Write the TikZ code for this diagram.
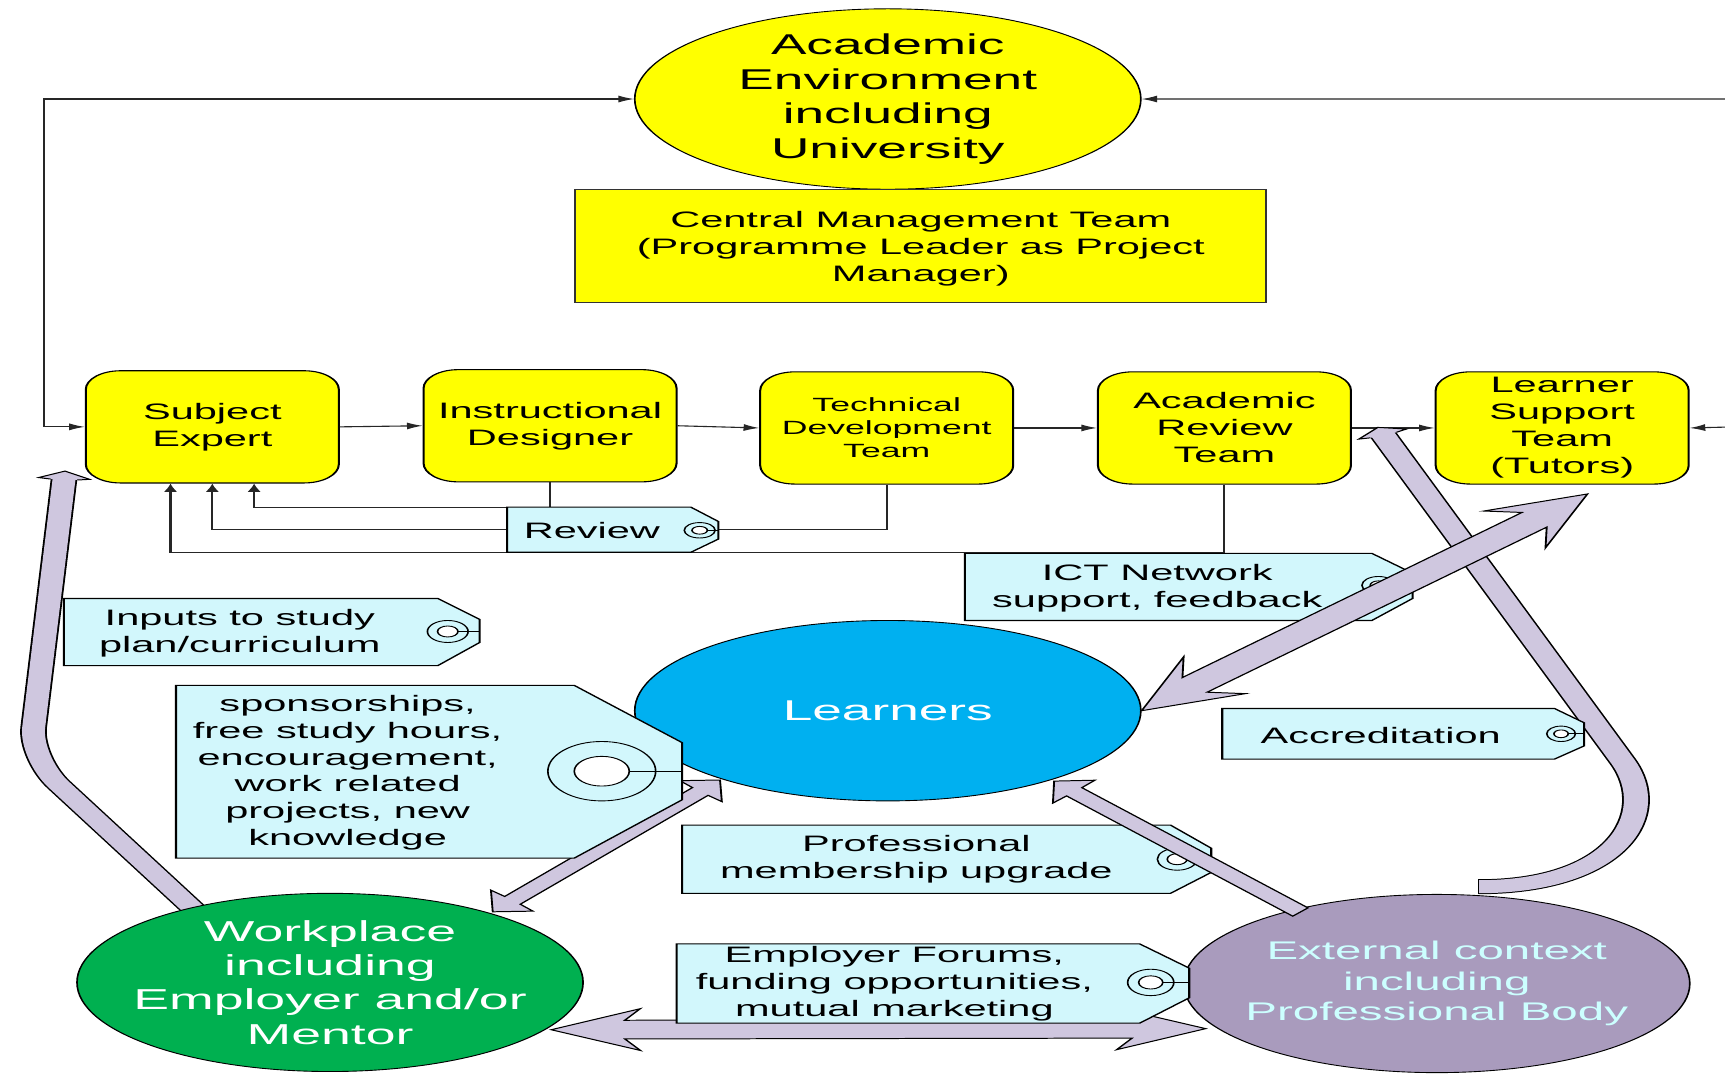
\documentclass[tikz,border=0pt]{standalone}
\usepackage{fontspec}
\setmainfont{Liberation Sans}
\usetikzlibrary{calc,arrows.meta,shapes.geometric}
\definecolor{ayellow}{RGB}{255,255,0}
\definecolor{tagcyan}{RGB}{210,247,252}
\definecolor{lblue}{RGB}{0,176,240}
\definecolor{wgreen}{RGB}{0,176,80}
\definecolor{epurple}{RGB}{169,155,189}
\definecolor{etext}{RGB}{204,255,255}
\definecolor{lav}{RGB}{207,199,223}
\newcommand\fsz[2]{\fontsize{#1}{#2}\selectfont}
% double-headed block arrow: A, B, neck, barb, shaft half, barb half
\newcommand\dblarrow[6]{%
 \filldraw[bigarrow] (#1) -- ($(#1)!#4!(#2)!#6!90:(#2)$) -- ($(#1)!#3!(#2)!#5!90:(#2)$) -- ($(#2)!#3!(#1)!#5!-90:(#1)$) -- ($(#2)!#4!(#1)!#6!-90:(#1)$) -- (#2) -- ($(#2)!#4!(#1)!#6!90:(#1)$) -- ($(#2)!#3!(#1)!#5!90:(#1)$) -- ($(#1)!#3!(#2)!#5!-90:(#2)$) -- ($(#1)!#4!(#2)!#6!-90:(#2)$) -- cycle;}
% single-headed block arrow: tip, tail, neck, barb, shaft half, barb half
\newcommand\sglarrow[6]{%
 \filldraw[bigarrow] (#1) -- ($(#1)!#4!(#2)!#6!90:(#2)$) -- ($(#1)!#3!(#2)!#5!90:(#2)$) -- ($(#2)!#5!-90:(#1)$) -- ($(#2)!#5!90:(#1)$) -- ($(#1)!#3!(#2)!#5!-90:(#2)$) -- ($(#1)!#4!(#2)!#6!-90:(#2)$) -- cycle;}
% arrow head only: tip, toward, neck, barb, shaft half, barb half
\newcommand\arrhead[6]{%
 \fill[bigfill] ($(#1)!#3!(#2)!#5!90:(#2)$) -- ($(#1)!#4!(#2)!#6!90:(#2)$) -- (#1) -- ($(#1)!#4!(#2)!#6!-90:(#2)$) -- ($(#1)!#3!(#2)!#5!-90:(#2)$) -- cycle;
 \draw[bigline] ($(#1)!#3!(#2)!#5!90:(#2)$) -- ($(#1)!#4!(#2)!#6!90:(#2)$) -- (#1) -- ($(#1)!#4!(#2)!#6!-90:(#2)$) -- ($(#1)!#3!(#2)!#5!-90:(#2)$);}
\begin{document}
\begin{tikzpicture}[x=0.5pt,y=-0.5pt]
\fill[white] (0,0) rectangle (1568,975.4);
\useasboundingbox (0,0) rectangle (1568,975.4);
\begin{scope}[transform canvas={xscale=1.86}, x=0.268817pt, y=-0.5pt,
  box/.style={draw=black, line width=0.5pt, fill=ayellow, rounded corners=8.5pt, minimum width=61.83pt, minimum height=51pt, inner sep=1pt, align=center, font=\fsz{10.15}{12.25}},
  ell/.style={ellipse, draw=black, line width=0.4pt, minimum width=123.66pt, minimum height=82pt, inner xsep=-6pt, inner ysep=-3pt, align=center},
  conn/.style={draw=black!85, line width=0.5pt},
  arrowend/.style={-{Latex[length=3.8pt,width=3.2pt]}},
  bothends/.style={{Latex[length=3.8pt,width=3.2pt]}-{Latex[length=3.8pt,width=3.2pt]}},
  tagst/.style={draw=black, line width=0.5pt, fill=tagcyan},
  tagtxt/.style={align=center, font=\fsz{10.15}{12.25}, inner sep=0pt, yshift=-1.2pt},
  holest/.style={draw=black, line width=0.4pt},
  bigfill/.style={fill=lav},
  bigline/.style={draw=black, line width=0.45pt},
  bigarrow/.style={fill=lav, draw=black, line width=0.45pt},
  shaftst/.style={draw=black, line width=0.45pt, double=lav, double distance=5.9pt},
]
% ---- top nodes
\node[ell, fill=ayellow, font=\fsz{13}{15.7}] (AE) at (807,90) {Academic\\Environment\\including\\University};
\node[draw=black!80, line width=0.5pt, fill=ayellow, minimum width=168.8pt, minimum height=51.5pt, inner sep=1pt, align=center, font=\fsz{10.15}{12.25}] (CMT) at (837,223.5) {};
\node[align=center, font=\fsz{10.15}{12.25}, inner sep=0pt, yshift=-1.2pt] (CMTtext) at (CMT.center) {Central Management Team\\(Programme Leader as Project\\Manager)};
% ---- row
\node[box] (SE) at (193,388) {Subject\\Expert};
\node[box] (ID) at (500,387) {Instructional\\Designer};
\node[box, font=\fsz{8.7}{10.5}] (TDT) at (806,389) {Technical\\Development\\Team};
\node[box] (ART) at (1113,389) {Academic\\Review\\Team};
\node[box] (LST) at (1420,389) {Learner\\Support\\Team\\(Tutors)};
% ---- thin connectors
\coordinate (lc) at (40,90);
\draw[conn, bothends] (AE.west) -- (lc) |- (SE.west);
\coordinate (rc1) at (1578,90);
\coordinate (rc2) at (1578,388);
\draw[conn, bothends] (AE.east) -- (rc1) -- (rc2) -- (LST.east);
\draw[conn, arrowend] (SE.east) -- (ID.west);
\draw[conn, arrowend] (ID.east) -- (TDT.west);
\draw[conn, arrowend] (TDT.east) -- (ART.west);
\draw[conn, arrowend] (ART.east) -- (LST.west);
\draw[conn, arrowend] (ID.south) -- ++(0,23) -| ($(SE.south)+(38,0)$);
\draw[conn, arrowend] (TDT.south) -- ++(0,41) -| (SE.south);
\draw[conn, arrowend] (ART.south) -- ++(0,62) -| ($(SE.south)+(-38,0)$);
% ---- learners
\node[ell, fill=lblue, text=white, font=\fsz{13}{15.7}] (LRN) at (807,646) {Learners};
% ---- big arrow workplace -> subject expert
\coordinate (seTip) at (59.1,428.2);
\coordinate (seBend) at (27.2,689);
\coordinate (seTail) at (182,832);
\draw[shaftst, double distance=5.6pt, rounded corners=14pt] ($(seTip)!3pt!(seBend)$) -- (seBend) -- (seTail);
\arrhead{seTip}{seBend}{3.85pt}{3.35pt}{3.25pt}{6.25pt}
% ---- curved arrow external -> review/support link
\coordinate (cTip) at (1252.4,388.5);
\coordinate (cB) at (1475,692);
\coordinate (cC1) at (1510,740);
\coordinate (cC2) at (1470,806);
\coordinate (cE) at (1344,806);
\draw[shaftst] ($(cTip)!3pt!(cB)$) -- (cB) .. controls (cC1) and (cC2) .. (cE);
\draw[bigline] ($(cE)+(0,-6.8)$) -- ($(cE)+(0,6.8)$);
\arrhead{cTip}{cB}{3.75pt}{3.25pt}{3.4pt}{6.25pt}
% ---- bottom ellipses
\node[ell, fill=wgreen, text=white, minimum height=81pt, font=\fsz{13.1}{15.65}] (WP) at (300,893) {Workplace\\including\\Employer and/or\\Mentor};
\node[ell, fill=epurple, text=etext, minimum height=81pt, font=\fsz{11.6}{13.75}] (EXT) at (1306,894) {External context\\including\\Professional Body};
% ---- workplace <-> external
\coordinate (a2L) at (501,936);
\coordinate (a2R) at (1096,935);
\dblarrow{a2L}{a2R}{18pt}{21.8pt}{4.25pt}{9.5pt}
% ---- learners <-> workplace
\coordinate (a3U) at (654.5,709);
\coordinate (a3D) at (447.9,828.8);
\dblarrow{a3U}{a3D}{7.1pt}{6.9pt}{2.6pt}{7pt}
% ---- tags
\draw[tagst] (461,461) -- (628,461) -- (653,474) -- (653,490) -- (628,502) -- (461,502) -- cycle;
\draw[holest] (636,482) ellipse [x radius=14, y radius=7];
\draw[holest, fill=white] (636,482) ellipse [x radius=7, y radius=3.5];
\draw[holest] (643,482) -- (653,482);
\node[tagtxt, yshift=0.6pt] (REV) at (538,481) {Review};

\draw[tagst] (58,544) -- (398,544) -- (436,563) -- (436,584) -- (398,605) -- (58,605) -- cycle;
\draw[holest] (407,574) ellipse [x radius=18.5, y radius=10];
\draw[holest, fill=white] (407,574) ellipse [x radius=9.3, y radius=5];
\draw[holest] (416.3,574) -- (436,574);
\node[tagtxt] (INP) at (218,573) {Inputs to study\\plan/curriculum};

\draw[tagst] (160,623) -- (522,623) -- (620,675) -- (620,727) -- (522,780) -- (160,780) -- cycle;
\draw[holest] (547,701) ellipse [x radius=49, y radius=27];
\draw[holest, fill=white] (547,701) ellipse [x radius=25, y radius=13.5];
\draw[holest] (572,701) -- (620,701);
\node[tagtxt] (SPO) at (316,700) {sponsorships,\\free study hours,\\encouragement,\\work related\\projects, new\\knowledge};

\draw[tagst] (1111,644) -- (1413,644) -- (1440,657) -- (1440,678) -- (1413,690) -- (1111,690) -- cycle;
\draw[holest] (1419,667) ellipse [x radius=13, y radius=7];
\draw[holest, fill=white] (1419,667) ellipse [x radius=6.5, y radius=3.5];
\draw[holest] (1425.5,667) -- (1440,667);
\node[tagtxt, yshift=0.6pt] (ACC) at (1255,667) {Accreditation};

\draw[tagst] (620,750) -- (1064,750) -- (1101,771) -- (1101,793) -- (1064,812) -- (620,812) -- cycle;
\draw[holest] (1070,781) ellipse [x radius=18, y radius=10];
\draw[holest, fill=white] (1070,781) ellipse [x radius=9, y radius=5];
\draw[holest] (1079,781) -- (1101,781);
\node[tagtxt] (PMU) at (833,779) {Professional\\membership upgrade};

\draw[tagst] (615,858) -- (1036,858) -- (1081,880) -- (1081,907) -- (1036,930) -- (615,930) -- cycle;
\draw[holest] (1046,893) ellipse [x radius=21, y radius=12];
\draw[holest, fill=white] (1046,893) ellipse [x radius=11, y radius=6];
\draw[holest] (1057,893) -- (1081,893);
\node[tagtxt] (EMP) at (813,892) {Employer Forums,\\funding opportunities,\\mutual marketing};

\draw[tagst] (877,503) -- (1247,503) -- (1284,521) -- (1284,544) -- (1247,564) -- (877,564) -- cycle;
\draw[holest] (1253,532) ellipse [x radius=15, y radius=8];
\draw[holest, fill=white] (1253,532) ellipse [x radius=7.5, y radius=4];
\draw[holest] (1260.5,532) -- (1284,532);
\node[tagtxt] (ICT) at (1052,532) {ICT Network\\support, feedback};
% ---- external -> learners
\coordinate (a4T) at (958.2,710);
\coordinate (a4S) at (1182,829);
\sglarrow{a4T}{a4S}{6.9pt}{6.8pt}{2.65pt}{7.3pt}
% ---- learners <-> learner support
\coordinate (a1U) at (1443,449);
\dblarrow{LRN.east}{a1U}{17.5pt}{24pt}{4.5pt}{11.25pt}
\end{scope}
\end{tikzpicture}
\end{document}
